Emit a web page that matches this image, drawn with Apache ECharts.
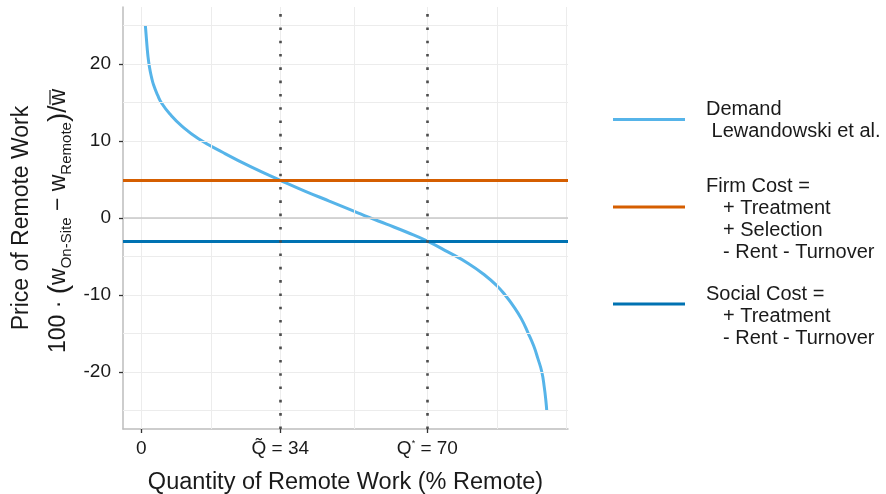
<!DOCTYPE html>
<html>
<head>
<meta charset="utf-8">
<script src="https://cdn.jsdelivr.net/npm/echarts@6/dist/echarts.min.js"></script>
<style>
  html, body { margin: 0; padding: 0; background: #ffffff; }
  #chart { width: 886px; height: 494px; }
</style>
</head>
<body>
<div id="chart"></div>
<script>
const FONT = "'Liberation Sans', Arial, Helvetica, sans-serif";

// Demand for remote work: quantity (% remote) and price (% of mean wage)
const demandQ = [1.0, 1.3, 1.6, 2.0, 2.5, 3.0, 4.0, 5.0, 7.0, 10.0, 14.0, 20.0, 27.0, 34.0,
  40.0, 46.0, 52.0, 55.6, 60.0, 65.0, 70.0,
  75.0, 80.0, 84.0, 87.0, 89.0, 91.0, 93.0, 94.7, 96.0, 97.0, 98.0, 98.6, 99.0, 99.2];
const demandPrice = [25.0, 23.0, 21.2, 19.6, 18.3, 17.3, 15.95, 14.9, 13.5, 11.9, 10.3, 8.5, 6.6, 4.9,
  3.5, 2.2, 0.9, 0.1, -0.8, -1.85, -3.0,
  -4.4, -5.9, -7.4, -8.8, -10.0, -11.4, -13.1, -15.0, -16.6, -18.2, -20.0, -22.0, -23.8, -25.0];

// Cost of remote work
const firmCost = 4.9;
const socialCost = -3.0;

// Equilibrium quantities
const qTilde = 34;
const qStar = 70;

// Axes
const xTicks = [0, qTilde, qStar];
const yTicks = [-20, -10, 0, 10, 20];
const xGridValues = [0, 17, 34, 52, 70, 87, 104];
const yGridValues = [-25, -20, -15, -10, -5, 0, 5, 10, 15, 20, 25];

const seriesNames = ['Demand', 'Firm Cost', 'Social Cost'];
const legendText = [
  ['Demand', ' Lewandowski et al.'],
  ['Firm Cost =', '+ Treatment', '+ Selection', '- Rent - Turnover'],
  ['Social Cost =', '+ Treatment', '- Rent - Turnover']
];
const colors = ['#56B4E9', '#D55E00', '#0072B2'];

const chart = echarts.init(document.getElementById('chart'), null, { renderer: 'canvas' });

// text measuring for the hand-laid y-axis title
const mctx = document.createElement('canvas').getContext('2d');
function measure(str, size) {
  mctx.font = size + 'px ' + FONT;
  return mctx.measureText(str).width;
}
const MID = 0.3465; // distance of the em-box middle above the baseline, in em

function yTitleGroup() {
  const main = 23, sub = 15, big = 28;
  const parts = [
    { t: '100 · ', s: main, dy: 0 },
    { t: '(', s: big, dy: 2 },
    { t: 'w', s: main, dy: 0 },
    { t: 'On-Site', s: sub, dy: 5 },
    { t: ' − ', s: main, dy: 0 },
    { t: 'w', s: main, dy: 0 },
    { t: 'Remote', s: sub, dy: 5 },
    { t: ')', s: big, dy: 2 },
    { t: '/', s: 26, dy: 1 },
    { t: 'w', s: main, dy: 0, over: true }
  ];
  const widths = parts.map(p => measure(p.t, p.s));
  const total = widths.reduce((a, b) => a + b, 0);
  const children = [];
  let x = -total / 2;
  parts.forEach((p, i) => {
    children.push({
      type: 'text', x: x, y: p.dy - MID * p.s,
      style: { text: p.t, font: p.s + 'px ' + FONT, fill: '#1a1a1a', align: 'left', verticalAlign: 'middle' }
    });
    if (p.over) {
      children.push({
        type: 'line', shape: { x1: x + 1, y1: -17, x2: x + widths[i] - 1, y2: -17 },
        style: { stroke: '#1a1a1a', lineWidth: 1.2 }
      });
    }
    x += widths[i];
  });
  children.push({
    type: 'text', x: 3, y: -37 - MID * main,
    style: { text: 'Price of Remote Work', font: main + 'px ' + FONT, fill: '#1a1a1a', align: 'center', verticalAlign: 'middle' }
  });
  return { type: 'group', x: 67, y: 221, rotation: Math.PI / 2, children: children, silent: true };
}

function legendGraphics() {
  const swatchY = [119.5, 207, 304];
  const firstLineY = [109, 186, 294];
  const out = [];
  legendText.forEach((lines, k) => {
    out.push({
      type: 'line', shape: { x1: 613, y1: swatchY[k], x2: 685, y2: swatchY[k] },
      style: { stroke: colors[k], lineWidth: 3 }, silent: true
    });
    lines.forEach((ln, j) => {
      const indent = (k > 0 && j > 0) ? 723 : 706;
      out.push({
        type: 'text', x: indent, y: firstLineY[k] + j * 22.3,
        style: { text: ln, font: '20px ' + FONT, fill: '#1a1a1a', align: 'left', verticalAlign: 'middle' },
        silent: true
      });
    });
  });
  return out;
}

const gridLine = { color: '#ececec', width: 1, type: 'solid' };

const option = {
  animation: false,
  backgroundColor: '#ffffff',
  textStyle: { fontFamily: FONT },
  grid: { left: 123, right: 318, top: 7, bottom: 65, containLabel: false },
  xAxis: {
    type: 'value', min: -4.47, max: 104.4,
    axisLine: { show: true, onZero: false, lineStyle: { color: '#bdbdbd', width: 1.5 } },
    axisTick: { show: true, customValues: xTicks, length: 4, lineStyle: { color: '#333333', width: 1.3 } },
    axisLabel: {
      customValues: xTicks, margin: 10, color: '#1a1a1a', fontSize: 19,
      formatter: function (v) {
        if (v === qTilde) return '{q|Q\u0303}{n| = ' + qTilde + '}';
        if (v === qStar) return '{q|Q}{sup|*}{n| = ' + qStar + '}';
        return String(v);
      },
      rich: {
        q: { fontSize: 19, color: '#1a1a1a', fontFamily: FONT },
        n: { fontSize: 19, color: '#1a1a1a', fontFamily: FONT },
        sup: { fontSize: 9, color: '#1a1a1a', verticalAlign: 'top', fontFamily: FONT }
      }
    },
    splitLine: { show: false }
  },
  yAxis: {
    type: 'value', min: -27.4, max: 27.4,
    axisLine: { show: true, onZero: false, lineStyle: { color: '#bdbdbd', width: 1.5 } },
    axisTick: { show: true, customValues: yTicks, length: 4, lineStyle: { color: '#333333', width: 1.3 } },
    axisLabel: { customValues: yTicks, margin: 12, color: '#1a1a1a', fontSize: 19 },
    splitLine: { show: false }
  },
  graphic: [yTitleGroup()].concat(legendGraphics()).concat([
    {
      type: 'text', x: 345.5, y: 483, silent: true,
      style: { text: 'Quantity of Remote Work (% Remote)', font: '23.5px ' + FONT, fill: '#1a1a1a', align: 'center', verticalAlign: 'middle' }
    }
  ]),
  series: [
    {
      name: 'panel grid', type: 'line', data: [], silent: true, z: 0,
      markLine: {
        silent: true, symbol: ['none', 'none'], label: { show: false }, animation: false,
        lineStyle: gridLine,
        data: xGridValues.map(v => ({ xAxis: v })).concat(yGridValues.map(v => ({ yAxis: v })))
      }
    },
    {
      name: 'zero', type: 'line', data: [], silent: true, z: 1,
      markLine: {
        silent: true, symbol: ['none', 'none'], label: { show: false }, animation: false,
        lineStyle: { color: '#c8c8c8', width: 1.5, type: 'solid' },
        data: [{ yAxis: 0 }]
      }
    },
    {
      name: seriesNames[0], type: 'line', z: 3,
      data: demandQ.map((q, i) => [q, demandPrice[i]]),
      smooth: 0.5, showSymbol: false, symbol: 'none',
      lineStyle: { color: colors[0], width: 3 }, itemStyle: { color: colors[0] }
    },
    {
      name: seriesNames[1], type: 'line', data: [], z: 4,
      markLine: {
        silent: true, symbol: ['none', 'none'], label: { show: false }, animation: false,
        lineStyle: { color: colors[1], width: 3, type: 'solid' },
        data: [{ yAxis: firmCost }]
      }
    },
    {
      name: seriesNames[2], type: 'line', data: [], z: 4,
      markLine: {
        silent: true, symbol: ['none', 'none'], label: { show: false }, animation: false,
        lineStyle: { color: colors[2], width: 3, type: 'solid' },
        data: [{ yAxis: socialCost }]
      }
    },
    {
      name: 'equilibria', type: 'line', data: [], z: 5,
      markLine: {
        silent: true, symbol: ['none', 'none'], label: { show: false }, animation: false,
        lineStyle: { color: '#4d4d4d', width: 2.6, type: [2.6, 10.7], cap: 'butt' },
        data: [{ xAxis: qTilde }, { xAxis: qStar }]
      }
    }
  ]
};

chart.setOption(option);
</script>
</body>
</html>
